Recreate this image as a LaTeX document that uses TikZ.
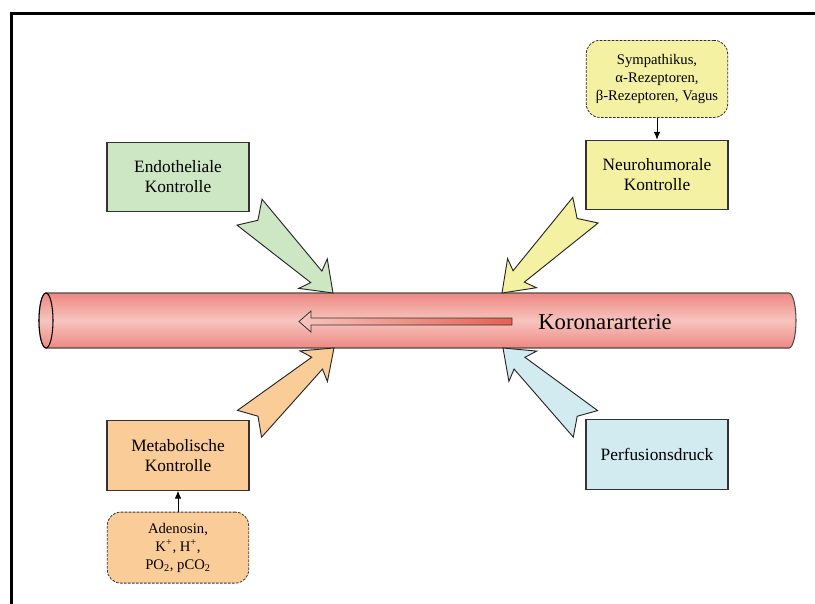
\documentclass[tikz,border=0pt]{standalone}
\usepackage{fontspec}
\setmainfont{Liberation Serif}
\usetikzlibrary{arrows.meta,positioning,calc}

\definecolor{endogreen}{RGB}{205,230,196}
\definecolor{neuroyellow}{RGB}{245,241,162}
\definecolor{metaorange}{RGB}{250,204,152}
\definecolor{perfcyan}{RGB}{209,235,240}
\definecolor{vesseldark}{RGB}{238,136,130}
\definecolor{vessellight}{RGB}{247,196,190}
\definecolor{flowred}{RGB}{230,96,82}

% fat notched arrow from tail (#1) to tip (#2)
\newcommand{\blockarrow}[3]{%
  \draw[fatarrow, fill=#3]
    ($(#1)!13.5pt!90:(#2)$) -- ($(#1)!0.1!(#2)$) -- ($(#1)!13.5pt!-90:(#2)$)
    -- ($(#1)!0.8!(#2)!6pt!-90:(#2)$) -- ($(#1)!0.76!(#2)!15.4pt!-90:(#2)$)
    -- (#2)
    -- ($(#1)!0.76!(#2)!15.4pt!90:(#2)$) -- ($(#1)!0.8!(#2)!6pt!90:(#2)$)
    -- cycle;}

\begin{document}
\begin{tikzpicture}[x=0.75pt, y=-0.75pt,
  box/.style={draw=black!80, line width=0.8pt, minimum width=106.5pt,
    minimum height=52pt, align=center, font=\fontsize{13}{15}\selectfont},
  factorbox/.style={draw=black!80, line width=0.6pt, dash pattern=on 2pt off 1pt,
    rounded corners=10pt, minimum width=106pt, align=center,
    font=\fontsize{11}{13.5}\selectfont},
  fatarrow/.style={draw=black!85, line width=0.7pt, line join=miter},
  thin arrow/.style={-{Latex[length=6pt,width=5pt]}, line width=0.75pt}]
  \useasboundingbox (0,0) rectangle (815,604);

  % Frame
  \draw[line width=2.25pt] (11,604) -- (11,13) -- (815,13);

  % Vessel
  \shade[draw=black!70, line width=0.8pt, top color=vesseldark,
    bottom color=vesseldark, middle color=vessellight]
    (46,293) -- (789,293) arc[start angle=90, end angle=-90, x radius=5.25pt, y radius=20.625pt]
    -- (46,348) arc[start angle=270, end angle=90, x radius=5.25pt, y radius=20.625pt] -- cycle;
  \shade[draw=black, line width=0.8pt, top color=vesseldark,
    bottom color=vesseldark, middle color=vessellight]
    (46,320.5) ellipse[x radius=5.25pt, y radius=20.625pt];
  \shade[draw=black!80, line width=0.6pt, left color=vessellight, right color=flowred]
    (512,318) -- (311,318) -- (311,311) -- (299,321.5) -- (311,332) -- (311,325)
    -- (512,325) -- cycle;
  \node[font=\fontsize{17}{20}\selectfont] (vessel) at (605,322) {Koronararterie};

  % Nodes
  \node[box, fill=endogreen] (endo) at (178,177) {Endotheliale\\Kontrolle};
  \node[box, fill=neuroyellow] (neuro) at (657,175) {Neurohumorale\\Kontrolle};
  \node[box, fill=metaorange] (meta) at (178,455.5) {Metabolische\\Kontrolle};
  \node[box, fill=perfcyan] (perf) at (657,454.5) {Perfusionsdruck};

  \node[factorbox, fill=neuroyellow, minimum height=57.75pt, above=16.5pt of neuro] (symp)
    {Sympathikus,\\α-Rezeptoren,\\β-Rezeptoren, Vagus};
  \node[factorbox, fill=metaorange, minimum height=53.25pt, below=15.75pt of meta] (aden)
    {Adenosin,\\K\textsuperscript{+}, H\textsuperscript{+},\\PO\textsubscript{2}, pCO\textsubscript{2}};

  \draw[thin arrow] (symp) -- (neuro);
  \draw[thin arrow] (aden) -- (meta);

  % Fat arrows onto the vessel
  \coordinate (endotip) at (333,293);
  \coordinate (neurotip) at (502,293);
  \coordinate (metatip) at (334,348);
  \coordinate (perftip) at (503,348);
  \coordinate (metatail) at ([yshift=-2.6pt]meta.north east);
  \coordinate (perftail) at ([yshift=-3.4pt]perf.north west);

  \blockarrow{endo.south east}{endotip}{endogreen}
  \blockarrow{neuro.south west}{neurotip}{neuroyellow}
  \blockarrow{metatail}{metatip}{metaorange}
  \blockarrow{perftail}{perftip}{perfcyan}
\end{tikzpicture}
\end{document}
